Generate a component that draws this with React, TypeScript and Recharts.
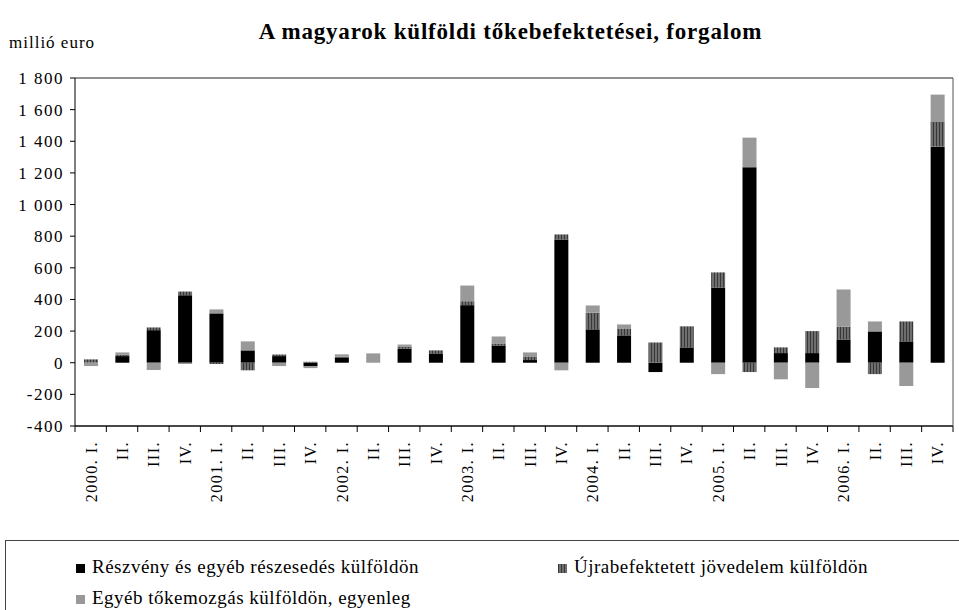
import { BarChart, Bar, XAxis, YAxis, CartesianGrid } from 'recharts';

const categories = [
    '2000. I.', 'II.', 'III.', 'IV.',
    '2001. I.', 'II.', 'III.', 'IV.',
    '2002. I.', 'II.', 'III.', 'IV.',
    '2003. I.', 'II.', 'III.', 'IV.',
    '2004. I.', 'II.', 'III.', 'IV.',
    '2005. I.', 'II.', 'III.', 'IV.',
    '2006. I.', 'II.', 'III.', 'IV.',
];

// millió euro
const reszveny = [0, 42, 206, 427, 312, 78, 42, -21, 34, 0, 90, 59, 364, 109, 17, 779, 211, 173, -59, 97, 476, 1236, 61, 61, 147, 198, 135, 1366];
const ujrabefektetett = [21, 8, 17, 23, -8, -48, 10, 6, 4, 0, 10, 19, 25, 13, 23, 32, 105, 44, 128, 133, 95, -59, 36, 139, 80, -72, 126, 156];
const egyeb = [-21, 15, -46, -8, 25, 57, -21, -13, 15, 59, 15, 0, 99, 44, 25, -48, 46, 25, 0, 0, -72, 187, -105, -160, 236, 63, -147, 173];

const yTicks = [-400, -200, 0, 200, 400, 600, 800, 1000, 1200, 1400, 1600, 1800];

const SERIES = [
    { key: 'reszveny', name: 'Részvény és egyéb részesedés külföldön', fill: '#000000' },
    { key: 'ujra', name: 'Újrabefektetett jövedelem külföldön', fill: 'url(#stripes)' },
    { key: 'egyeb', name: 'Egyéb tőkemozgás külföldön, egyenleg', fill: '#999999' },
];

const FONT = '"Liberation Serif", "Times New Roman", serif';
const PLOT_LEFT = 75;
const PLOT_RIGHT = 953;
const BAND = (PLOT_RIGHT - PLOT_LEFT) / categories.length;

const data = categories.map((c, i) => ({
    name: c,
    reszveny: reszveny[i],
    ujra: ujrabefektetett[i],
    egyeb: egyeb[i],
}));

const fmt = (v: number) => (Math.abs(v) >= 1000 ? `${Math.trunc(v / 1000)} ${String(Math.abs(v) % 1000).padStart(3, '0')}` : String(v));

function QuarterTick(props: any) {
    const { x, y, payload, index } = props;
    const half = BAND / 2;
    const tx = x + 6;
    const ty = y + 15;
    return (
        <g>
            <line x1={x - half} x2={x - half} y1={y} y2={y + 6} stroke="#000" />
            {index === categories.length - 1 && <line x1={x + half} x2={x + half} y1={y} y2={y + 6} stroke="#000" />}
            <text x={tx} y={ty} transform={`rotate(-90, ${tx}, ${ty})`} textAnchor="end" fontSize={16} letterSpacing={1.5} fontFamily={FONT} fill="#000">
                {payload.value}
            </text>
        </g>
    );
}

function Stripes({ id }: { id: string }) {
    return (
        <pattern id={id} width={3} height={4} patternUnits="userSpaceOnUse">
            <rect width={3} height={4} fill="#6e6e6e" />
            <rect width={1} height={4} fill="#383838" />
        </pattern>
    );
}

function Swatch({ fill }: { fill: string }) {
    return (
        <svg width={9} height={9} style={{ marginRight: 7 }}>
            <defs>
                <Stripes id="stripesLegend" />
            </defs>
            <rect width={9} height={9} fill={fill === 'url(#stripes)' ? 'url(#stripesLegend)' : fill} />
        </svg>
    );
}

function LegendBox() {
    const item = { position: 'absolute' as const, whiteSpace: 'nowrap' as const, lineHeight: '22px' };
    return (
        <div style={{ position: 'absolute', left: 5, top: 540, width: 1000, height: 100, borderTop: '1px solid #444', borderLeft: '1px solid #444', fontFamily: FONT, fontSize: 19, letterSpacing: 0.5, color: '#000' }}>
            <div style={{ ...item, left: 70, top: 15 }}><Swatch fill={SERIES[0].fill} />{SERIES[0].name}</div>
            <div style={{ ...item, left: 552, top: 15 }}><Swatch fill={SERIES[1].fill} />{SERIES[1].name}</div>
            <div style={{ ...item, left: 70, top: 46 }}><Swatch fill={SERIES[2].fill} />{SERIES[2].name}</div>
        </div>
    );
}

export default function App() {
    return (
        <div style={{ position: 'relative', width: 959, height: 610, overflow: 'hidden', background: '#fff' }}>
            <style>{'html, body { margin: 0; padding: 0; overflow: hidden; }'}</style>
            <div style={{ position: 'absolute', left: 0, right: 0, top: 19, textAlign: 'center', paddingLeft: 62, fontFamily: FONT, fontWeight: 'bold', fontSize: 23, letterSpacing: 0.8 }}>
                A magyarok külföldi tőkebefektetései, forgalom
            </div>
            <div style={{ position: 'absolute', left: 9, top: 33, fontFamily: FONT, fontSize: 17, letterSpacing: 1 }}>millió euro</div>
            <BarChart
                width={959}
                height={610}
                data={data}
                stackOffset="sign"
                barSize={14}
                barCategoryGap={0}
                margin={{ top: 78, right: 0, bottom: 104, left: 0 }}
            >
                <defs>
                    <Stripes id="stripes" />
                </defs>
                <CartesianGrid vertical={false} stroke="#222" />
                <XAxis
                    dataKey="name"
                    interval={0}
                    tickLine={false}
                    tickSize={0}
                    tickMargin={0}
                    axisLine={{ stroke: '#000' }}
                    tick={<QuarterTick />}
                    height={80}
                />
                <YAxis
                    yAxisId="left"
                    domain={[-400, 1800]}
                    ticks={yTicks}
                    interval={0}
                    width={75}
                    tickSize={5}
                    tickMargin={6}
                    tickFormatter={fmt}
                    axisLine={{ stroke: '#000' }}
                    tickLine={{ stroke: '#000' }}
                    tick={{ fill: '#000', fontSize: 17, fontFamily: FONT, letterSpacing: 1.5 } as any}
                />
                <YAxis yAxisId="right" orientation="right" width={6} tick={false} tickLine={false} axisLine={{ stroke: '#555' }} domain={[-400, 1800]} />
                {SERIES.map(s => (
                    <Bar key={s.key} yAxisId="left" dataKey={s.key} name={s.name} stackId="a" fill={s.fill} isAnimationActive={false} />
                ))}
            </BarChart>
            <LegendBox />
        </div>
    );
}
